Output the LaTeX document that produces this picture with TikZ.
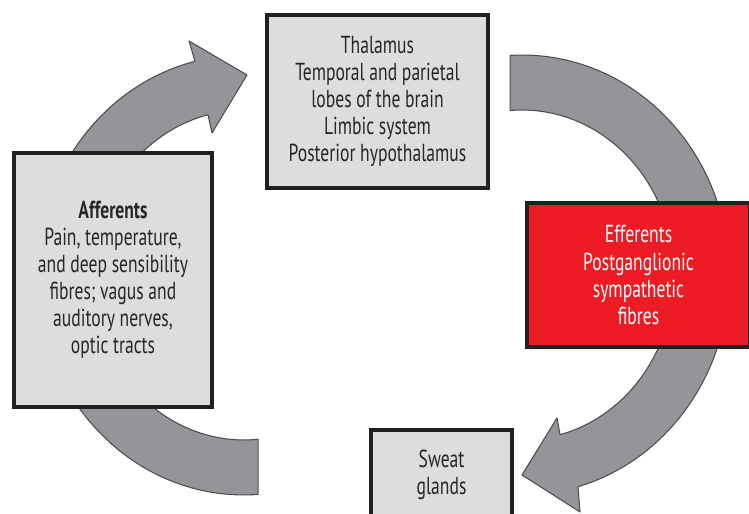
\documentclass[tikz,border=0pt]{standalone}
\usepackage{fontspec}
\setmainfont{PT Sans}[FakeStretch=0.715]
\usetikzlibrary{calc}
\definecolor{boxgray}{HTML}{DCDDDF}
\definecolor{arrowgray}{HTML}{939598}
\definecolor{efred}{HTML}{ED1C24}
\definecolor{edge}{HTML}{231F20}
\definecolor{txt}{HTML}{262626}

\begin{document}
\begin{tikzpicture}[x=0.02cm,y=0.02cm,
  box/.style={draw=edge, line width=2.2pt, fill=boxgray, align=center, text=txt,
    font=\fontsize{14}{15.4}\selectfont, inner sep=0pt},
  bandarrow/.style={fill=arrowgray, draw=black!70, line width=0.6pt, line join=round}]

\useasboundingbox (0,0) rectangle (749,513);

\coordinate (lc) at (244,238);
\coordinate (rc) at (522,238);

% afferents up to the thalamus
\filldraw[bandarrow] (lc) ++(-86.1:4.14cm and 4.4cm)
  arc[start angle=-86.1, end angle=-256.3, x radius=4.14cm, y radius=4.4cm]
  -- (189,472) -- (247,438) -- (212,380)
  -- ($(lc)+(103.7:3.04cm and 3.3cm)$)
  arc[start angle=103.7, end angle=275.3, x radius=3.04cm, y radius=3.3cm] -- cycle;

% thalamus down to the sweat glands
\filldraw[bandarrow] (rc) ++(93.3:4.14cm and 4.4cm)
  arc[start angle=93.3, end angle=-74.3, x radius=4.14cm, y radius=4.4cm]
  -- (580,1) -- (522,38) -- (557,95)
  -- ($(rc)+(-75.5:3.04cm and 3.3cm)$)
  arc[start angle=-75.5, end angle=94.5, x radius=3.04cm, y radius=3.3cm] -- cycle;

\node[box, minimum width=4.42cm, minimum height=3.46cm] (thal) at (377.5,411.5)
  {Thalamus\\Temporal and parietal\\lobes of the brain\\Limbic system\\Posterior hypothalamus};
\node[box, minimum width=3.96cm, minimum height=5.08cm] (aff) at (113,233)
  {\textbf{Afferents}\\Pain, temperature,\\and deep sensibility\\fibres; vagus and\\auditory nerves,\\optic tracts};
\node[box, fill=efred, text=white, minimum width=4.46cm, minimum height=2.88cm] (eff) at (638.5,238)
  {Efferents\\Postganglionic\\sympathetic\\fibres};
\node[box, minimum width=2.82cm, minimum height=1.8cm] (sweat) at (441.5,38)
  {Sweat\\glands};

\end{tikzpicture}
\end{document}
